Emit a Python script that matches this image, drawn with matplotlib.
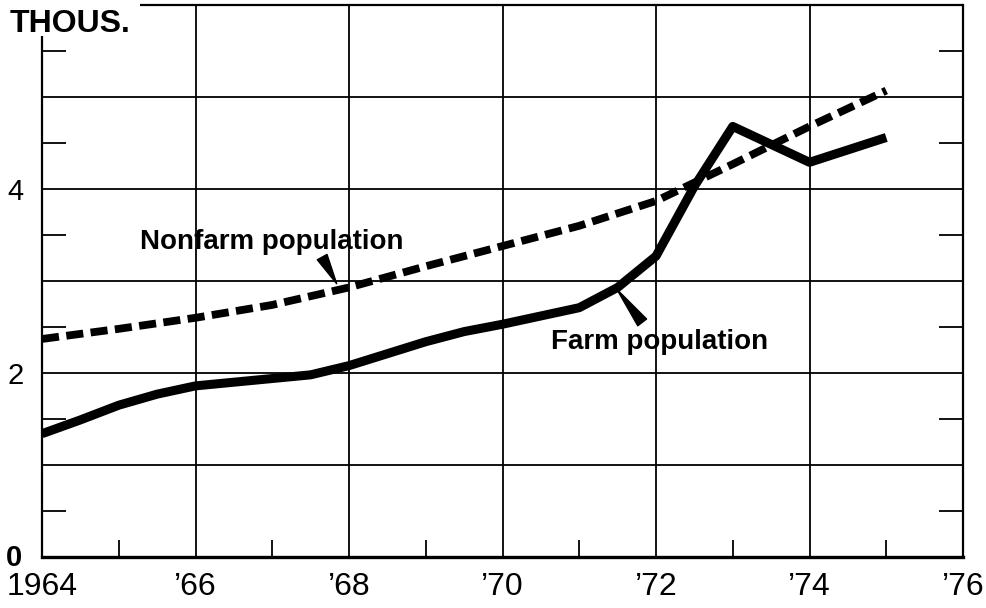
import matplotlib
matplotlib.use("Agg")
import matplotlib.pyplot as plt
from matplotlib.ticker import FixedLocator

plt.rcParams['font.family'] = ['Liberation Sans', 'DejaVu Sans']

# ---- data (thousands) ----
farm_years = [1964, 1964.5, 1965, 1965.5, 1966, 1966.5, 1967, 1967.5, 1968, 1968.5, 1969,
              1969.5, 1970, 1970.5, 1971, 1971.5, 1972, 1972.5, 1973, 1974, 1975]
farm_vals = [1.34, 1.49, 1.65, 1.77, 1.86, 1.90, 1.94, 1.98, 2.08, 2.21, 2.34,
             2.45, 2.53, 2.62, 2.71, 2.93, 3.27, 4.03, 4.68, 4.29, 4.56]

nonfarm_years = [1964, 1965, 1966, 1967, 1968, 1969, 1970, 1971, 1972, 1973, 1974, 1975]
nonfarm_vals = [2.37, 2.48, 2.60, 2.74, 2.93, 3.16, 3.38, 3.60, 3.87, 4.27, 4.68, 5.07]

x_ticks = [1964, 1966, 1968, 1970, 1972, 1974, 1976]
x_labels = ['1964', '\u201966', '\u201968', '\u201970', '\u201972', '\u201974', '\u201976']
y_ticks = [0, 1, 2, 3, 4, 5]
y_labels = ['', '', '2', '', '4', '']
zero_label = '0'

fig = plt.figure(figsize=(9.87, 6.08), dpi=100)
ax = fig.add_axes([42/987, 51/608, 921/987, 552/608])
ax.set_xlim(1964, 1976)
ax.set_ylim(0, 6)

# grid
ax.set_xticks(x_ticks)
ax.set_xticklabels(x_labels, fontsize=23)
ax.set_yticks(y_ticks)
ax.set_yticklabels(y_labels, fontsize=21)
ax.grid(True, color='black', linewidth=1.3)
ax.get_xgridlines()[0].set_visible(False)
ax.get_xgridlines()[-1].set_visible(False)
ax.tick_params(axis='both', which='major', length=0)
ax.tick_params(axis='x', which='major', pad=11)
ax.tick_params(axis='y', which='major', pad=13)

# bold zero label
ax.text(-0.022, -0.1, zero_label, transform=ax.get_yaxis_transform(), fontsize=21,
        fontweight='bold', ha='right', va='baseline')

ax.xaxis.set_minor_locator(FixedLocator([1965, 1967, 1969, 1971, 1973, 1975]))
ax.yaxis.set_minor_locator(FixedLocator([0.5, 1.5, 2.5, 3.5, 4.5, 5.5]))
ax.tick_params(axis='x', which='minor', direction='in', length=12, width=1.3, bottom=True, top=False)
ax.tick_params(axis='y', which='minor', direction='in', length=17, width=1.3, left=True, right=True)

# spines
for s in ['top', 'left']:
    ax.spines[s].set_visible(False)
ax.spines['right'].set_linewidth(1.6)
ax.spines['bottom'].set_linewidth(2.4)
ax.plot([1964, 1964], [0, 5.66], color='black', lw=1.6, clip_on=False, solid_capstyle='butt')
ax.plot([1965.28, 1976], [6, 6], color='black', lw=1.6, clip_on=False, solid_capstyle='butt')

# series
ax.plot(farm_years, farm_vals, color='black', lw=6.5, solid_joinstyle='round',
        solid_capstyle='butt', zorder=5)
ax.plot(nonfarm_years, nonfarm_vals, color='black', lw=5.6, dashes=(2.2, 0.95),
        dash_capstyle='butt', dash_joinstyle='round', zorder=5)

# labels with wedge pointers
ax.text(1967.0, 3.35, 'Nonfarm population', fontsize=20, fontweight='bold', ha='center', va='baseline')
ax.annotate('', xy=(1967.84, 2.97), xytext=(1967.65, 3.26),
            arrowprops=dict(arrowstyle='wedge,tail_width=0.4', color='black',
                            shrinkA=0, shrinkB=0, mutation_scale=20))
ax.text(1972.04, 2.26, 'Farm population', fontsize=20, fontweight='bold', ha='center', va='baseline')
ax.annotate('', xy=(1971.49, 2.91), xytext=(1971.82, 2.55),
            arrowprops=dict(arrowstyle='wedge,tail_width=0.4', color='black',
                            shrinkA=0, shrinkB=0, mutation_scale=20))

fig.text(10/987, (608-32)/608, 'THOUS.', fontsize=23, fontweight='bold', ha='left', va='baseline')

fig.savefig('out.png', dpi=100)
